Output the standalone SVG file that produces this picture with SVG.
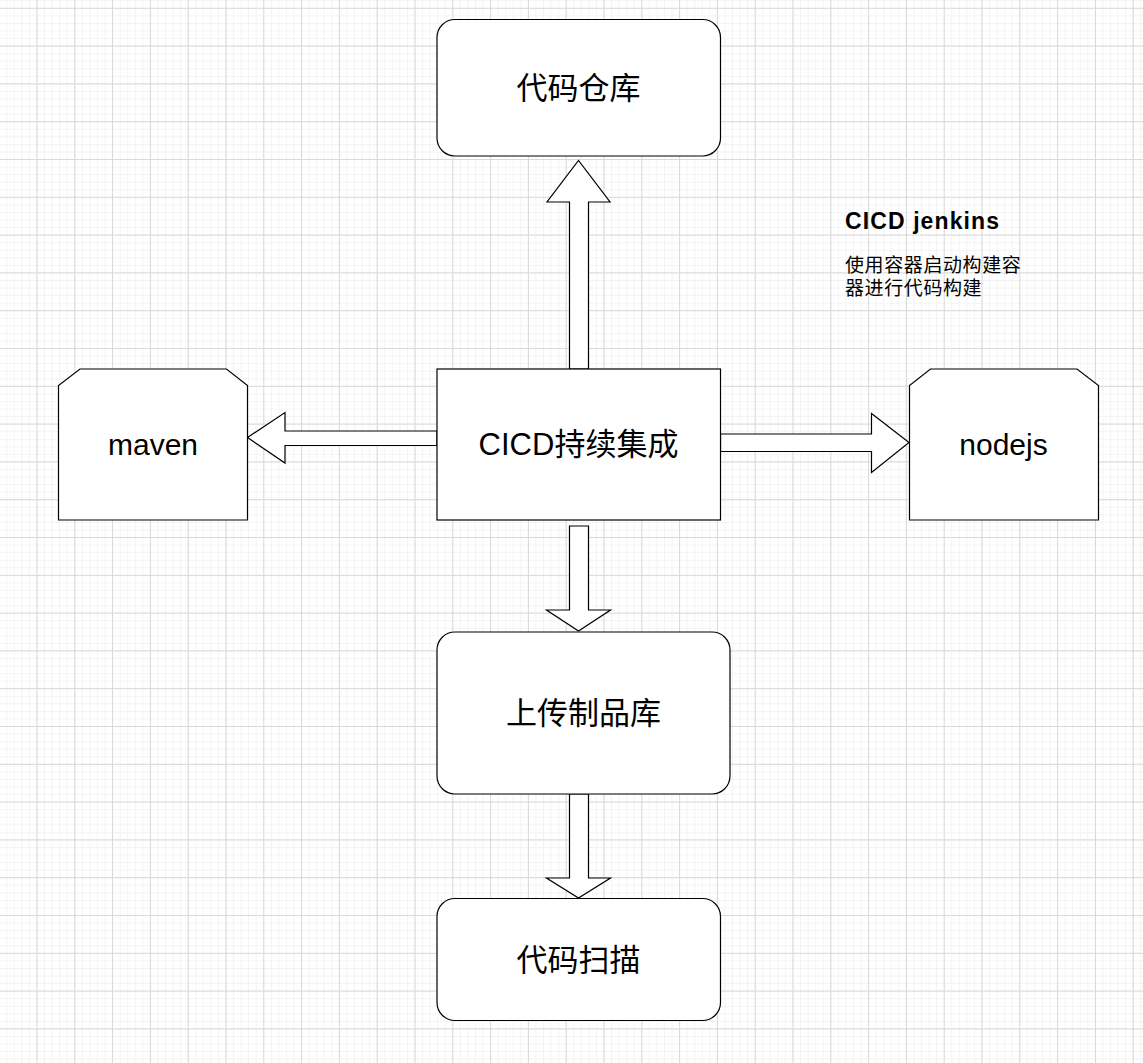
<svg xmlns="http://www.w3.org/2000/svg" width="1143" height="1063" viewBox="0 0 1143 1063">
  <defs>
    <pattern id="minor" patternUnits="userSpaceOnUse" x="-1.3" y="0.3" width="7.56" height="7.56">
      <path d="M0.5 0V7.56M0 0.5H7.56" fill="none" stroke="#f3f3f3" stroke-width="1"/>
    </pattern>
    <pattern id="major" patternUnits="userSpaceOnUse" x="-1.3" y="7.8" width="37.8" height="37.8">
      <path d="M0.5 0V37.8M0 0.5H37.8" fill="none" stroke="#d9d9d9" stroke-width="1"/>
    </pattern>
  </defs>
  <style>
    .shape { fill: #ffffff; stroke: #000000; stroke-width: 1.2; }
    .arrow { fill: #ffffff; stroke: #000000; stroke-width: 1.2; stroke-linejoin: miter; }
    .label { font-family: "Liberation Sans", "Noto Sans CJK SC", sans-serif; font-size: 31px; fill: #000000; text-anchor: middle; }
    .title { font-family: "Liberation Sans", "Noto Sans CJK SC", sans-serif; font-size: 23px; font-weight: bold; fill: #000000; }
    .body { font-family: "Liberation Sans", "Noto Sans CJK SC", sans-serif; font-size: 19px; letter-spacing: 0.6px; fill: #000000; }
  </style>
  <rect width="1143" height="1063" fill="#ffffff"/>
  <rect width="1143" height="1063" fill="url(#minor)"/>
  <rect width="1143" height="1063" fill="url(#major)"/>

  <g id="connectors">
    <polygon class="arrow" points="569.5,369 569.5,202 547,202 578.5,160.5 610,202 588.5,202 588.5,369"/>
    <polygon class="arrow" points="437,431 285,431 285,412.5 247.5,437.5 285,463 285,445.5 437,445.5"/>
    <polygon class="arrow" points="720.5,434 871.5,434 871.5,413.5 909,442.5 871.5,472.5 871.5,451.5 720.5,451.5"/>
    <polygon class="arrow" points="569.5,526 588.5,526 588.5,610 610.5,610 578.5,631 546.5,610 569.5,610"/>
    <polygon class="arrow" points="569.5,794 588.5,794 588.5,878 610.5,878 578.5,898 546.5,878 569.5,878"/>
  </g>

  <g id="node-repo">
    <rect class="shape" x="437" y="19.5" width="283.5" height="136.5" rx="18" ry="18"/>
    <text class="label" x="578.5" y="99">代码仓库</text>
  </g>

  <g id="node-cicd">
    <rect class="shape" x="437" y="369" width="283.5" height="151"/>
    <text class="label" x="578.5" y="455">CICD持续集成</text>
  </g>

  <g id="node-maven">
    <polygon class="shape" points="80,369 226.5,369 247.5,385.5 247.5,520 58.5,520 58.5,385.5"/>
    <text class="label" x="153" y="455" style="font-size:30px">maven</text>
  </g>

  <g id="node-nodejs">
    <polygon class="shape" points="930.5,369 1077,369 1098.5,385.5 1098.5,520 909.5,520 909.5,385.5"/>
    <text class="label" x="1003.5" y="455" style="font-size:30px">nodejs</text>
  </g>

  <g id="node-artifact">
    <rect class="shape" x="437" y="632" width="293" height="162" rx="18" ry="18"/>
    <text class="label" x="583.5" y="724">上传制品库</text>
  </g>

  <g id="node-scan">
    <rect class="shape" x="437" y="898.5" width="283.5" height="122" rx="18" ry="18"/>
    <text class="label" x="578.5" y="971">代码扫描</text>
  </g>

  <g id="note-jenkins">
    <text class="title" x="845" y="229" textLength="154">CICD jenkins</text>
    <text class="body" x="845" y="271.5">使用容器启动构建容</text>
    <text class="body" x="845" y="294.5">器进行代码构建</text>
  </g>
</svg>
